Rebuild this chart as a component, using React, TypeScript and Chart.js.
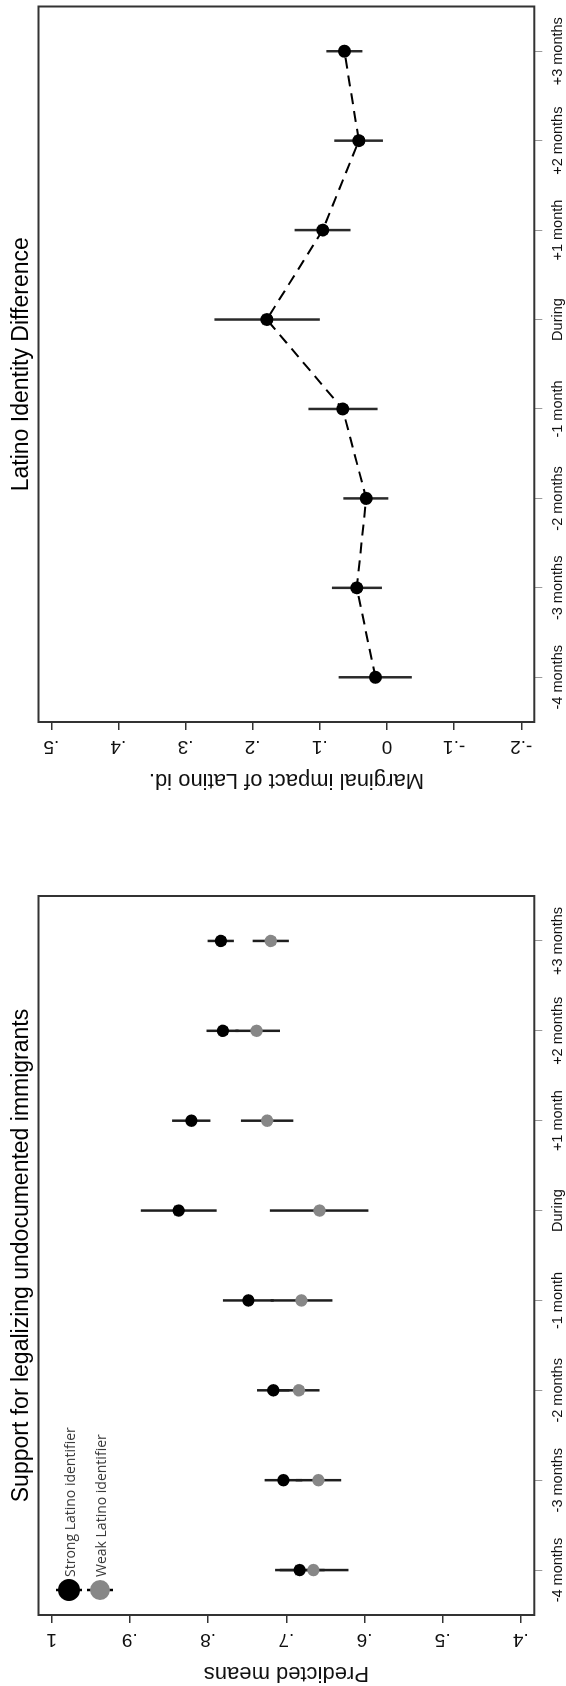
import React, { useEffect, useRef } from "react";
import { Chart, registerables } from "chart.js";

Chart.register(...registerables);

// ---------- data ----------
const categories = ["-4 months", "-3 months", "-2 months", "-1 month", "During", "+1 month", "+2 months", "+3 months"];

const strongMean = [0.683, 0.7036, 0.7166, 0.7485, 0.8375, 0.8213, 0.781, 0.7835];
const strongLo = [0.651, 0.6795, 0.696, 0.716, 0.789, 0.797, 0.761, 0.767];
const strongHi = [0.7143, 0.7277, 0.7374, 0.781, 0.886, 0.846, 0.802, 0.8006];

const weakMean = [0.6653, 0.6589, 0.6838, 0.6806, 0.6575, 0.7244, 0.738, 0.7198];
const weakLo = [0.6205, 0.6298, 0.6575, 0.641, 0.595, 0.691, 0.708, 0.6967];
const weakHi = [0.7083, 0.688, 0.71, 0.72, 0.721, 0.758, 0.765, 0.743];

const diffMean = [0.0172, 0.045, 0.031, 0.066, 0.179, 0.0957, 0.0419, 0.0634];
const diffLo = [-0.037, 0.0075, -0.002, 0.014, 0.1, 0.0543, 0.006, 0.0366];
const diffHi = [0.072, 0.082, 0.065, 0.117, 0.257, 0.1376, 0.0785, 0.0903];

const predTickValues = [0.4, 0.5, 0.6, 0.7, 0.8, 0.9, 1];
const predTickLabels = [".4", ".5", ".6", ".7", ".8", ".9", "1"];
const diffTickValues = [-0.2, -0.1, 0, 0.1, 0.2, 0.3, 0.4, 0.5];
const diffTickLabels = ["-.2", "-.1", "0", ".1", ".2", ".3", ".4", ".5"];

const titleA = "Support for legalizing undocumented immigrants";
const titleB = "Latino Identity Difference";
const yTitleA = "Predicted means";
const yTitleB = "Marginal impact of Latino id.";
const legendLabels = ["Strong Latino identifier", "Weak Latino identifier"];
const strongColor = "#000000";
const weakColor = "#878787";

// ---------- layout ----------
const FIG_W = 1686;
const FIG_H = 566;
const CANVAS_W = 843;
const FONT = '"Liberation Sans", Arial, sans-serif';

type Bar = { lo: number[]; hi: number[] };

function errorBarPlugin(bars: Bar[], color: string, width: number) {
  return {
    id: "errbars",
    beforeDatasetsDraw(chart: any) {
      const { ctx, scales } = chart;
      const xs = scales.x;
      const ys = scales.y;
      ctx.save();
      ctx.strokeStyle = color;
      ctx.lineWidth = width;
      ctx.lineCap = "butt";
      bars.forEach((b) => {
        b.lo.forEach((lo, i) => {
          const x = xs.getPixelForValue(i);
          ctx.beginPath();
          ctx.moveTo(x, ys.getPixelForValue(lo));
          ctx.lineTo(x, ys.getPixelForValue(b.hi[i]));
          ctx.stroke();
        });
      });
      ctx.restore();
    },
  };
}

const framePlugin = {
  id: "frame",
  afterDatasetsDraw(chart: any) {
    const { ctx, chartArea: ca } = chart;
    ctx.save();
    ctx.strokeStyle = "#333333";
    ctx.lineWidth = 2;
    ctx.strokeRect(ca.left, ca.top, ca.right - ca.left, ca.bottom - ca.top);
    ctx.restore();
  },
};

const legendPlugin = {
  id: "customLegend",
  afterDraw(chart: any) {
    const { ctx, chartArea: ca } = chart;
    const colors = [strongColor, weakColor];
    const radii = [11, 10];
    ctx.save();
    legendLabels.forEach((lab, i) => {
      const cx = ca.left + 25;
      const cy = ca.top + 30.5 + i * 31;
      ctx.strokeStyle = "#000";
      ctx.lineWidth = 2.5;
      ctx.beginPath();
      ctx.moveTo(cx, cy - 13);
      ctx.lineTo(cx, cy + 13);
      ctx.stroke();
      ctx.fillStyle = colors[i];
      ctx.beginPath();
      ctx.arc(cx, cy, radii[i], 0, Math.PI * 2);
      ctx.fill();
      ctx.fillStyle = "#3a3a3a";
      ctx.font = '14px "Open Sans", sans-serif';
      ctx.textBaseline = "alphabetic";
      ctx.textAlign = "left";
      ctx.fillText(lab, cx + 13, cy + 6);
    });
    ctx.restore();
  },
};

function makeOptions(p: {
  title: string;
  yTitle: string;
  min: number;
  max: number;
  tickValues: number[];
  tickLabels: string[];
  padLeft: number;
  padRight: number;
  tickPad: number;
}) {
  return {
    responsive: false,
    maintainAspectRatio: false,
    animation: false as const,
    devicePixelRatio: 1,
    layout: { padding: { left: p.padLeft, right: p.padRight, top: 0, bottom: 0 } },
    plugins: {
      legend: { display: false },
      tooltip: { enabled: false },
      title: {
        display: true,
        text: p.title,
        fullSize: false,
        color: "#000",
        font: { family: FONT, size: 23, weight: "normal" as const },
        padding: { top: 7.5, bottom: 3.4 },
      },
    },
    scales: {
      x: {
        type: "category" as const,
        labels: categories,
        offset: true,
        border: { display: false },
        grid: { offset: false, drawOnChartArea: false, drawTicks: true, tickLength: 8, color: "#9a9a9a", lineWidth: 1 },
        ticks: {
          autoSkip: false,
          maxRotation: 0,
          minRotation: 0,
          padding: 7,
          color: "#111",
          font: { family: FONT, size: 14.5 },
        },
        afterFit: (s: any) => {
          s.height = 31.7;
        },
      },
      y: {
        type: "linear" as const,
        position: "left" as const,
        min: p.min,
        max: p.max,
        border: { display: false },
        grid: { drawOnChartArea: false, drawTicks: true, tickLength: 8, color: "#333", lineWidth: 1.5 },
        ticks: {
          minRotation: 90,
          maxRotation: 90,
          crossAlign: "center" as const,
          padding: p.tickPad,
          color: "#111",
          font: { family: FONT, size: 19 },
          callback: (_v: any, i: number) => p.tickLabels[i],
        },
        afterBuildTicks: (s: any) => {
          s.ticks = p.tickValues.map((v) => ({ value: v }));
        },
        title: {
          display: true,
          text: p.yTitle,
          color: "#111",
          font: { family: FONT, size: 22 },
          padding: { top: 0, bottom: 0 },
        },
        afterFit: (s: any) => {
          s.width = 71;
        },
      },
    },
  };
}

export default function App() {
  const refA = useRef<HTMLCanvasElement | null>(null);
  const refB = useRef<HTMLCanvasElement | null>(null);

  useEffect(() => {
    document.body.style.margin = "0";
    const chartA = new Chart(refA.current as HTMLCanvasElement, {
      type: "line",
      data: {
        labels: categories,
        datasets: [
          {
            label: legendLabels[1],
            data: weakMean,
            showLine: false,
            pointRadius: 6.2,
            pointBackgroundColor: weakColor,
            pointBorderColor: weakColor,
            pointBorderWidth: 0,
          },
          {
            label: legendLabels[0],
            data: strongMean,
            showLine: false,
            pointRadius: 6.2,
            pointBackgroundColor: strongColor,
            pointBorderColor: strongColor,
            pointBorderWidth: 0,
          },
        ],
      },
      options: makeOptions({
        title: titleA,
        yTitle: yTitleA,
        min: 0.3829,
        max: 1.0168,
        tickValues: predTickValues,
        tickLabels: predTickLabels,
        padLeft: 0,
        padRight: CANVAS_W - 790,
        tickPad: 8,
      }) as any,
      plugins: [
        errorBarPlugin(
          [
            { lo: strongLo, hi: strongHi },
            { lo: weakLo, hi: weakHi },
          ],
          "#1e1e1e",
          2.5
        ),
        framePlugin,
        legendPlugin,
      ],
    });

    const chartB = new Chart(refB.current as HTMLCanvasElement, {
      type: "line",
      data: {
        labels: categories,
        datasets: [
          {
            label: titleB,
            data: diffMean,
            showLine: true,
            borderColor: "#000",
            borderWidth: 2,
            borderDash: [11, 7],
            tension: 0,
            pointRadius: 6.5,
            pointBackgroundColor: "#000",
            pointBorderColor: "#000",
            pointBorderWidth: 0,
          },
        ],
      },
      options: makeOptions({
        title: titleB,
        yTitle: yTitleB,
        min: -0.2194,
        max: 0.519,
        tickValues: diffTickValues,
        tickLabels: diffTickLabels,
        padLeft: 964 - CANVAS_W - 71,
        padRight: CANVAS_W - (1681 - CANVAS_W),
        tickPad: 5,
      }) as any,
      plugins: [errorBarPlugin([{ lo: diffLo, hi: diffHi }], "#2a2a2a", 2.5), framePlugin],
    });

    return () => {
      chartA.destroy();
      chartB.destroy();
    };
  }, []);

  return (
    <div style={{ position: "absolute", left: 0, top: 0, width: FIG_H, height: FIG_W, overflow: "hidden", background: "#fff" }}>
      <div
        style={{
          position: "absolute",
          left: 0,
          top: 0,
          width: FIG_W,
          height: FIG_H,
          transformOrigin: "0 0",
          transform: `translateY(${FIG_W}px) rotate(-90deg)`,
        }}
      >
        <canvas ref={refA} width={CANVAS_W} height={FIG_H} style={{ position: "absolute", left: 0, top: 0, width: CANVAS_W, height: FIG_H }} />
        <canvas ref={refB} width={CANVAS_W} height={FIG_H} style={{ position: "absolute", left: CANVAS_W, top: 0, width: CANVAS_W, height: FIG_H }} />
      </div>
    </div>
  );
}
